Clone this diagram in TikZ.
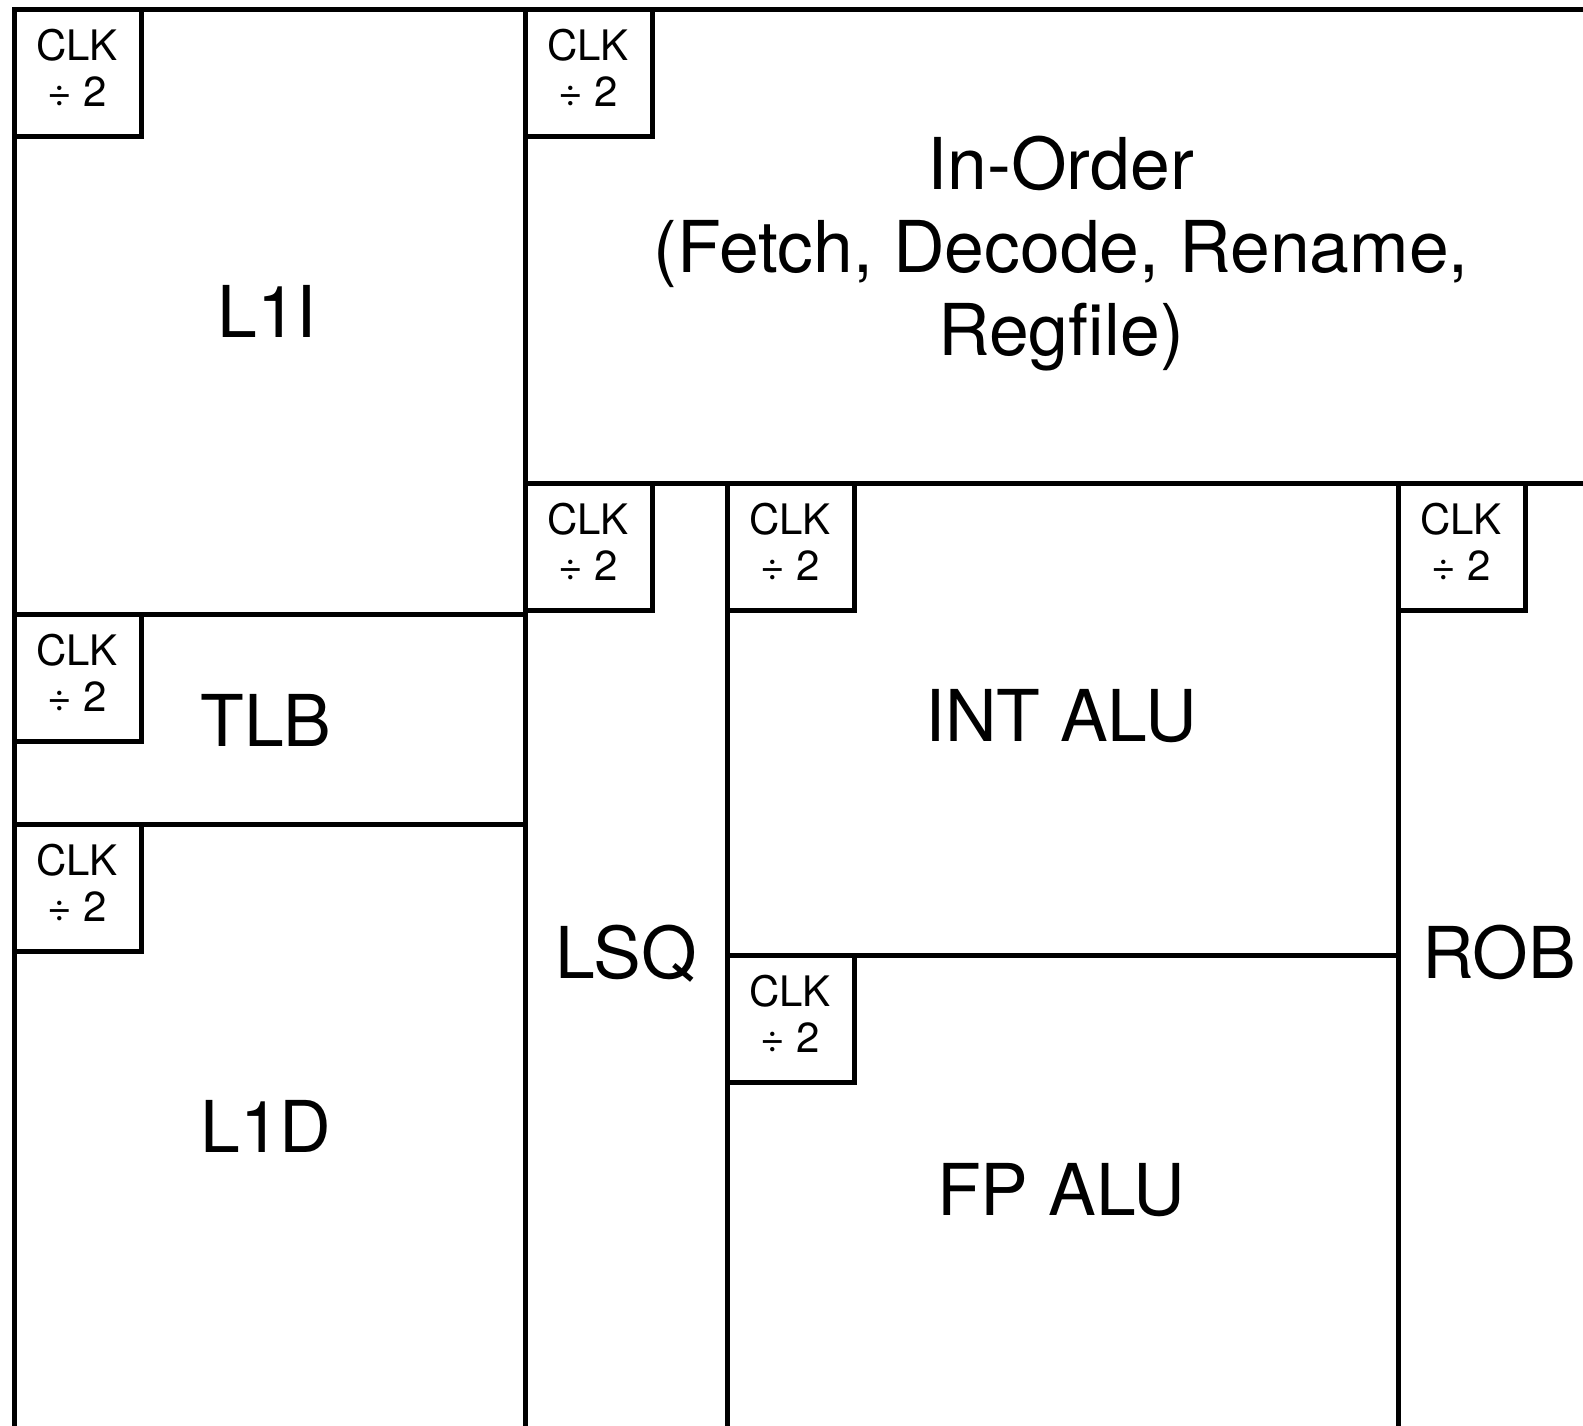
\documentclass[tikz,border=0pt]{standalone}
\usepackage{fontspec}
\setmainfont{TeX Gyre Heros}
\begin{document}
\begin{tikzpicture}[x=1pt,y=-1pt,
  wall/.style={line width=5pt, line cap=rect, line join=miter},
  clkbox/.style={line width=5pt, line cap=rect, line join=miter},
  clktext/.style={font=\fontsize{42}{46}\selectfont, align=center, inner sep=0pt},
  big/.style={font=\fontsize{71.5}{83}\selectfont, align=center, inner sep=0pt}]
\useasboundingbox (0,0) rectangle (1583,1425);
\clip (0,0) rectangle (1583,1425);
% floorplan walls
\draw[wall] (14,1440) -- (14,9) -- (1600,9);
\draw[wall] (525,9) -- (525,1440);
\draw[wall] (14,614) -- (525,614);
\draw[wall] (14,824) -- (525,824);
\draw[wall] (525,483) -- (1600,483);
\draw[wall] (727,483) -- (727,1440);
\draw[wall] (1398,483) -- (1398,1440);
\draw[wall] (727,955) -- (1398,955);
% clock divider boxes
\foreach \x/\y/\n in {14/9/a, 525/9/b, 525/483/c, 727/483/d, 1398/483/e, 14/614/f, 14/824/g, 727/955/h}{
  \draw[clkbox] (\x+127,\y) -- (\x+127,\y+127) -- (\x,\y+127);
  \node[clktext] (clk\n) at (\x+63,\y+59) {CLK\\÷ 2};
}
% block labels
\node[big] (l1i) at (267,311) {L1I};
\node[big] (tlb) at (266,720) {TLB};
\node[big] (l1d) at (266,1126) {L1D};
\node[big, anchor=north] (inorder) at (1061,136) {In-Order\\(Fetch, Decode, Rename,\\Regfile)};
\node[big] (lsq) at (626,954) {LSQ};
\node[big] (intalu) at (1061,716) {INT ALU};
\node[big] (fpalu) at (1061,1190) {FP ALU};
\node[big] (rob) at (1499,952) {ROB};
\end{tikzpicture}
\end{document}
